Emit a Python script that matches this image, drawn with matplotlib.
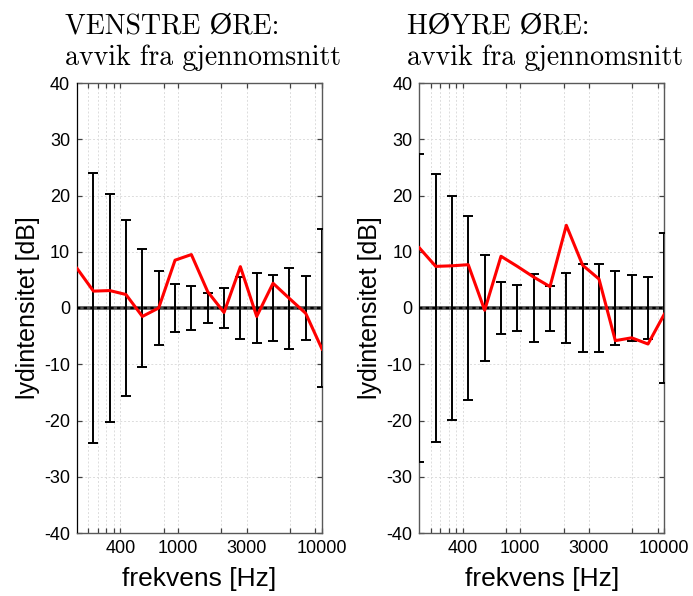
import numpy as np
import matplotlib
matplotlib.use('Agg')
import matplotlib.pyplot as plt
from matplotlib.ticker import FixedLocator, FixedFormatter, NullLocator

plt.rcParams['font.family'] = ['Liberation Sans', 'DejaVu Sans']
plt.rcParams['axes.unicode_minus'] = False

# band centre frequencies (Hz)
freqs = [200, 260, 337, 437, 568, 737, 957, 1242, 1612, 2092, 2716,
         3525, 4575, 5939, 7709, 10000]

# left ear: deviation from mean and spread
left_dev = [7.05, 3.0, 3.1, 2.4, -1.5, 0.0, 8.5, 9.5, 2.9, -0.8, 7.35,
            -1.5, 4.4, 1.7, -0.95, -7.3]
left_err = [45.0, 24.0, 20.2, 15.6, 10.5, 6.5, 4.3, 3.95, 2.7, 3.5, 5.5,
            6.3, 5.8, 7.2, 5.65, 14.0]

# right ear
right_dev = [10.7, 7.4, 7.5, 7.7, -0.4, 9.2, 7.4, 5.5, 3.8, 14.7, 7.6,
             5.15, -5.8, -5.3, -6.4, -1.1]
right_err = [27.3, 23.9, 19.9, 16.3, 9.45, 4.7, 4.1, 6.05, 4.0, 6.25, 7.9,
             7.8, 6.6, 5.8, 5.55, 13.35]

tick_pos = [240, 280, 320, 360, 400, 800, 1000, 2000, 3000, 6000, 9000, 10000]
tick_lbl = ['', '', '', '', '400', '', '1000', '', '3000', '', '', '10000']

titles = [("VENSTRE ØRE:", "avvik fra gjennomsnitt"),
          ("HØYRE ØRE:", "avvik fra gjennomsnitt")]

W, H = 693, 596
fig = plt.figure(figsize=(W / 100, H / 100), dpi=100)

panels = [(77, left_dev, left_err, 65), (419.3, right_dev, right_err, 407)]

for k, (x0, dev, err, tx) in enumerate(panels):
    ax = fig.add_axes([x0 / W, 63 / H, 245 / W, 450 / H])
    ax.set_xscale('log')
    ax.set_xlim(200, 10000)
    ax.set_ylim(-40, 40)

    ax.axhline(0, color='0.3', lw=2.6, zorder=2)
    ax.axhline(0, color='k', lw=1.6, ls=(0, (1.5, 1.5)), zorder=3)
    ax.errorbar(freqs, np.zeros(len(freqs)), yerr=err, fmt='none',
                ecolor='k', elinewidth=1.4, capsize=3.8, capthick=1.4,
                zorder=4)
    ax.plot(freqs, dev, color='#ff0000', lw=2.2, zorder=5)

    ax.xaxis.set_major_locator(FixedLocator(tick_pos))
    ax.xaxis.set_major_formatter(FixedFormatter(tick_lbl))
    ax.xaxis.set_minor_locator(NullLocator())
    ax.set_yticks(np.arange(-40, 41, 10))
    ax.grid(True, color='#dcdcdc', ls=(0, (2, 2)), lw=0.7)
    ax.set_axisbelow(True)
    ax.tick_params(direction='in', top=True, right=True, length=3.5,
                   width=0.9, color='0.25', labelsize=13, pad=5)
    for s in ax.spines.values():
        s.set_color('0.35')
        s.set_linewidth(1.0)

    ax.set_xlabel('frekvens [Hz]', fontsize=19, labelpad=7)
    ax.set_ylabel('lydintensitet [dB]', fontsize=18, labelpad=3)

    fig.text(tx / W, 1 - 33 / H, titles[k][0], fontsize=20,
             family=['cmr10', 'DejaVu Serif'], va='baseline')
    fig.text(tx / W, 1 - 65 / H, titles[k][1], fontsize=20,
             family=['cmr10', 'DejaVu Serif'], va='baseline')

fig.savefig('out.png', dpi=100)
